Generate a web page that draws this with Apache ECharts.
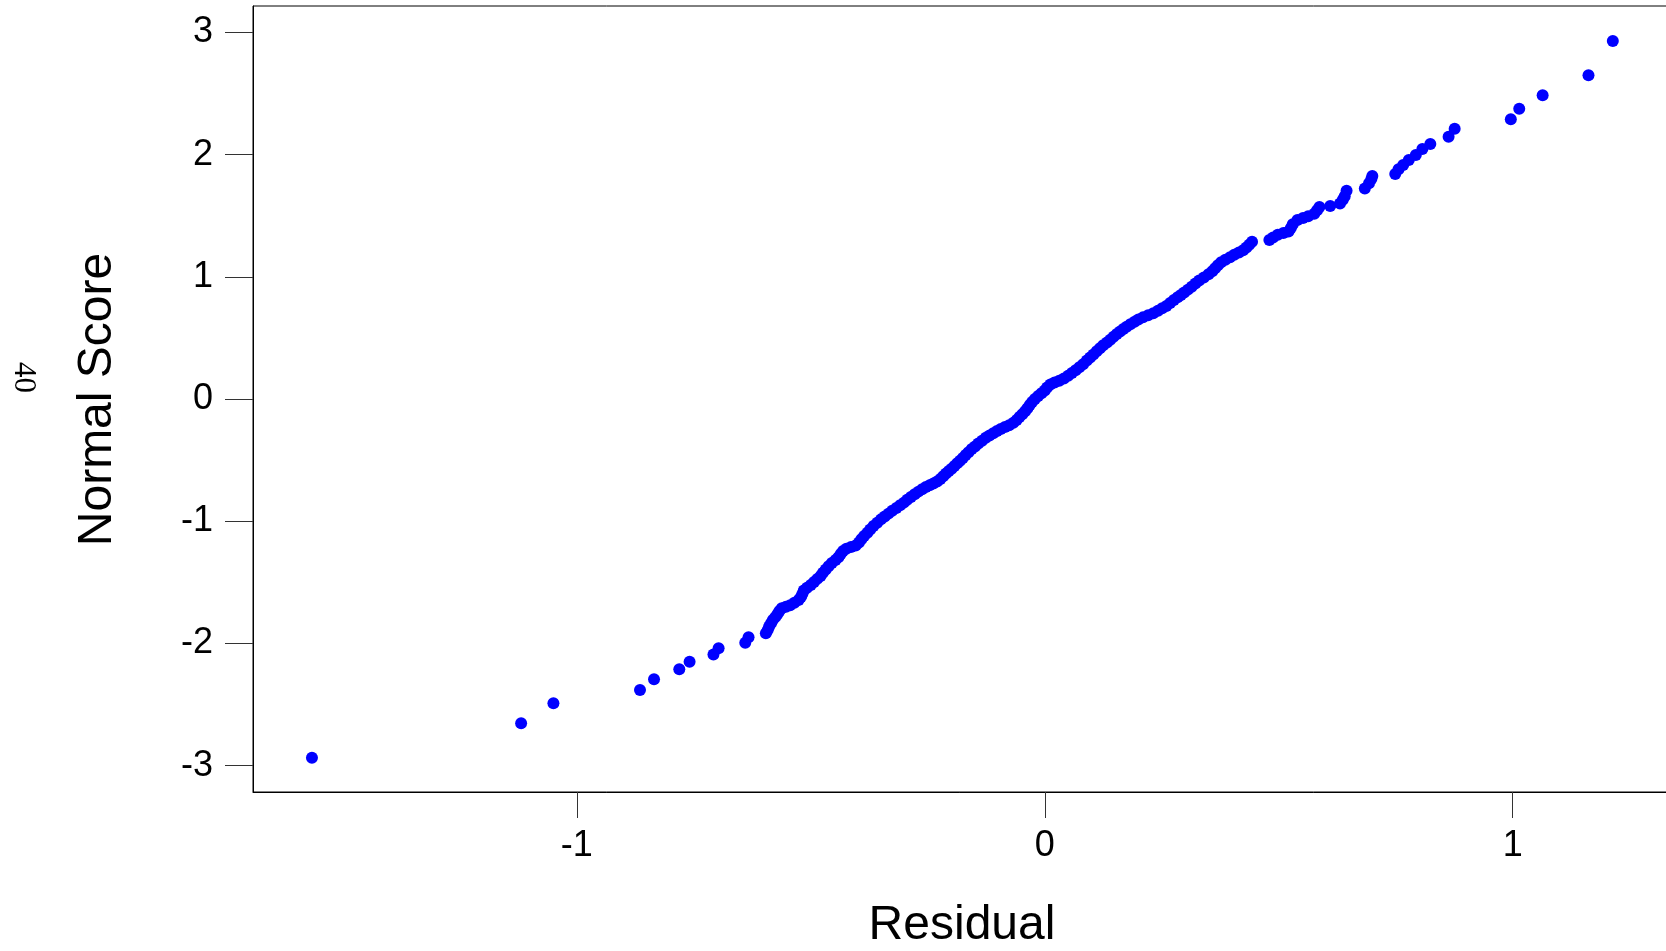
<!DOCTYPE html>
<html>
<head>
<meta charset="utf-8">
<style>
html,body{margin:0;padding:0;background:#fff;}
#chart{width:1666px;height:951px;}
</style>
<script src="https://cdn.jsdelivr.net/npm/echarts@6/dist/echarts.min.js"></script>
</head>
<body>
<div id="chart"></div>
<script>
const residuals = [
-1.566,-1.119,-1.050,-0.865,-0.835,-0.781,-0.759,-0.708,-0.697,-0.640,-0.633,-0.596,
-0.592,-0.589,-0.585,-0.581,-0.576,-0.571,-0.567,-0.562,-0.553,-0.544,-0.535,-0.526,
-0.521,-0.518,-0.515,-0.508,-0.500,-0.493,-0.486,-0.479,-0.474,-0.468,-0.462,-0.455,
-0.447,-0.441,-0.436,-0.431,-0.424,-0.414,-0.404,-0.397,-0.392,-0.386,-0.379,-0.373,
-0.366,-0.358,-0.350,-0.342,-0.334,-0.326,-0.317,-0.309,-0.301,-0.294,-0.286,-0.278,
-0.270,-0.262,-0.254,-0.246,-0.238,-0.230,-0.223,-0.217,-0.211,-0.205,-0.199,-0.193,
-0.187,-0.181,-0.175,-0.169,-0.163,-0.156,-0.149,-0.142,-0.134,-0.126,-0.118,-0.110,
-0.102,-0.094,-0.085,-0.076,-0.067,-0.060,-0.054,-0.048,-0.042,-0.037,-0.032,-0.027,
-0.021,-0.014,-0.007,0.000,0.005,0.012,0.021,0.031,0.041,0.050,0.058,0.066,
0.074,0.082,0.090,0.097,0.104,0.111,0.118,0.125,0.133,0.140,0.147,0.154,
0.161,0.168,0.175,0.183,0.192,0.200,0.210,0.221,0.232,0.242,0.251,0.260,
0.268,0.276,0.284,0.291,0.298,0.306,0.314,0.322,0.330,0.340,0.350,0.358,
0.364,0.370,0.377,0.386,0.396,0.405,0.415,0.424,0.431,0.437,0.443,
0.480,0.488,0.498,0.510,0.521,0.526,0.530,0.540,0.552,0.563,0.576,0.582,0.587,
0.610,0.631,0.637,0.641,0.645,0.684,0.693,0.698,0.700,
0.749,0.756,0.766,0.778,0.793,0.807,0.824,0.863,0.876,
0.996,1.014,1.064,1.162,1.214
];
const normalScores = [
-2.935,-2.654,-2.490,-2.381,-2.294,-2.212,-2.150,-2.090,-2.040,-1.994,-1.950,-1.916,
-1.890,-1.862,-1.835,-1.808,-1.785,-1.760,-1.735,-1.712,-1.700,-1.688,-1.668,-1.645,
-1.620,-1.595,-1.568,-1.545,-1.522,-1.497,-1.472,-1.448,-1.422,-1.395,-1.368,-1.342,
-1.318,-1.295,-1.268,-1.243,-1.225,-1.212,-1.198,-1.175,-1.148,-1.122,-1.095,-1.068,
-1.040,-1.012,-0.985,-0.962,-0.938,-0.915,-0.892,-0.870,-0.848,-0.825,-0.802,-0.780,
-0.758,-0.738,-0.720,-0.705,-0.692,-0.676,-0.655,-0.632,-0.610,-0.590,-0.570,-0.548,
-0.525,-0.505,-0.482,-0.458,-0.435,-0.410,-0.388,-0.365,-0.342,-0.318,-0.298,-0.280,
-0.262,-0.245,-0.230,-0.215,-0.195,-0.172,-0.148,-0.125,-0.100,-0.075,-0.050,-0.025,
0.000,0.025,0.048,0.070,0.095,0.118,0.135,0.150,0.168,0.190,0.212,0.236,
0.260,0.285,0.315,0.340,0.365,0.390,0.415,0.440,0.462,0.485,0.510,0.532,
0.552,0.572,0.592,0.612,0.632,0.650,0.668,0.685,0.702,0.722,0.742,0.762,
0.785,0.810,0.832,0.852,0.872,0.895,0.918,0.945,0.970,0.995,1.020,1.045,
1.070,1.095,1.120,1.140,1.160,1.180,1.198,1.218,1.240,1.262,1.287,
1.301,1.322,1.345,1.358,1.370,1.400,1.430,1.465,1.482,1.495,1.515,1.545,1.572,
1.580,1.600,1.630,1.660,1.705,1.722,1.765,1.800,1.825,
1.842,1.880,1.915,1.955,1.997,2.046,2.087,2.147,2.212,
2.289,2.376,2.485,2.649,2.930
];
const xTicks = [-1, 0, 1];
const yTicks = [-3, -2, -1, 0, 1, 2, 3];
const xTitle = 'Residual';
const yTitle = 'Normal Score';
const cornerNote = '40';

const points = residuals.map((r, i) => [r, normalScores[i]]);

const chart = echarts.init(document.getElementById('chart'), null, {renderer: 'canvas'});
const FONT = '"Liberation Sans", Arial, sans-serif';
chart.setOption({
  animation: false,
  backgroundColor: '#ffffff',
  grid: {
    left: 253, top: 6, right: -10, bottom: 159,
    show: true, borderColor: '#000', borderWidth: 1,
    containLabel: false, outerBoundsMode: 'none'
  },
  xAxis: {
    type: 'value',
    min: -1.692, max: 1.349,
    splitLine: {show: false},
    axisLine: {show: true, onZero: false, lineStyle: {color: '#000', width: 1}},
    axisTick: {show: true, inside: false, length: 26, customValues: xTicks, lineStyle: {color: '#333', width: 1}},
    axisLabel: {show: true, customValues: xTicks, margin: 36, fontSize: 36, color: '#000', fontFamily: FONT,
      formatter: v => String(v)}
  },
  yAxis: {
    type: 'value',
    min: -3.216, max: 3.216,
    splitLine: {show: false},
    axisLine: {show: true, onZero: false, lineStyle: {color: '#000', width: 1}},
    axisTick: {show: true, inside: false, length: 28, customValues: yTicks, lineStyle: {color: '#333', width: 1}},
    axisLabel: {show: true, customValues: yTicks, margin: 40, fontSize: 36, color: '#000', fontFamily: FONT,
      formatter: v => String(v)}
  },
  graphic: [
    {type: 'text', x: 98, y: 399.5, rotation: Math.PI / 2,
      style: {text: yTitle, fontSize: 48, fontFamily: FONT, fill: '#000', align: 'center', verticalAlign: 'middle'}},
    {type: 'text', x: 962, y: 925.5,
      style: {text: xTitle, fontSize: 48, fontFamily: FONT, fill: '#000', align: 'center', verticalAlign: 'middle'}},
    {type: 'text', x: 23, y: 377.5, rotation: -Math.PI / 2,
      style: {text: cornerNote, fontSize: 31, fontFamily: '"Liberation Serif", "Times New Roman", serif', fill: '#000', align: 'center', verticalAlign: 'middle'}}
  ],
  series: [{
    type: 'scatter',
    data: points,
    symbol: 'circle',
    symbolSize: 12,
    itemStyle: {color: '#0000ff', opacity: 1},
    emphasis: {disabled: true}
  }]
});
</script>
</body>
</html>
